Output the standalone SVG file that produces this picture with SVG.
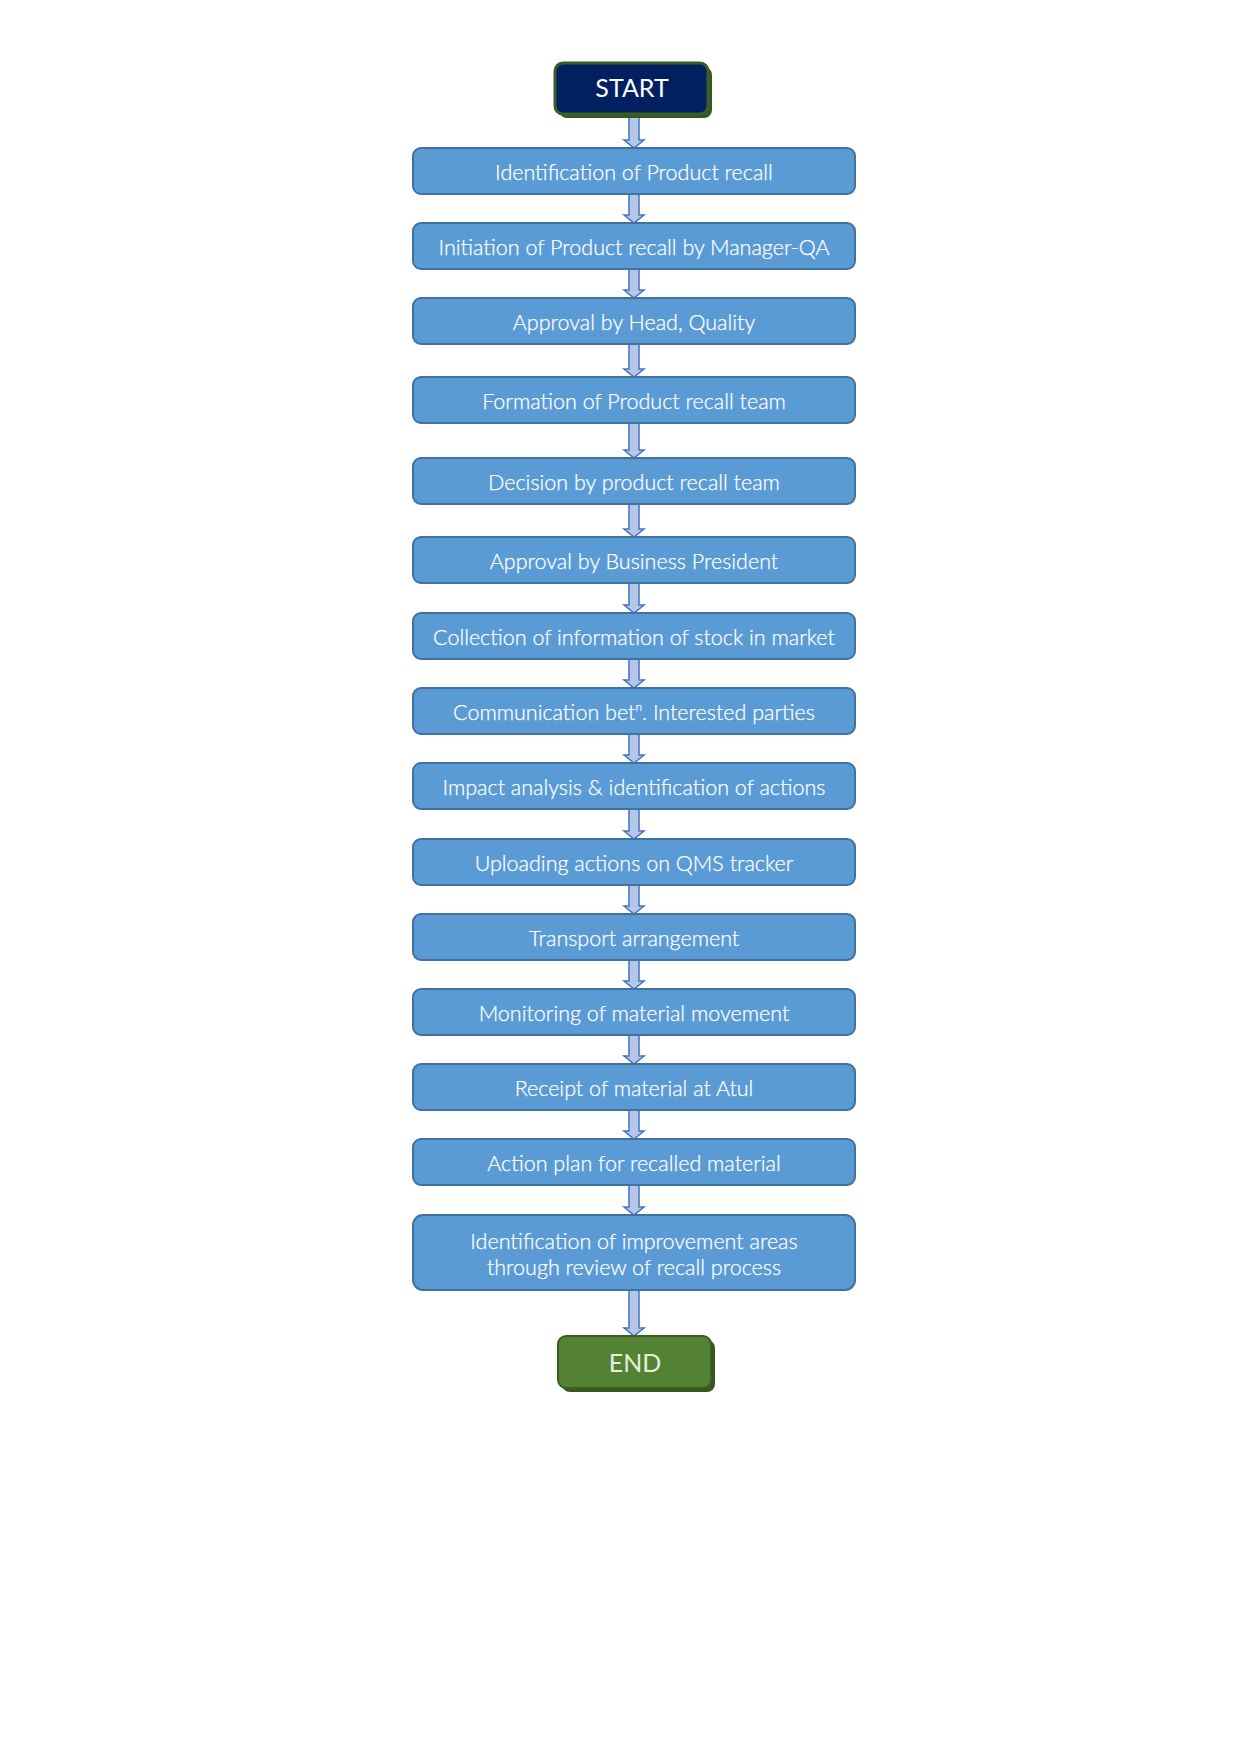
<svg xmlns="http://www.w3.org/2000/svg" width="1241" height="1755" viewBox="0 0 1241 1755">
<style>
.bg{fill:#ffffff}
.box{fill:#5b9bd5;stroke:#41719c;stroke-width:2}
.t{font-family:Lato,"Open Sans",sans-serif;font-size:21.5px;font-weight:300;fill:#ffffff;stroke:#ffffff;stroke-width:0.25;text-anchor:middle}
.tt{font-family:Lato,"Open Sans",sans-serif;font-size:25px;text-anchor:middle}
.arr{fill:#b4c7e7;stroke:#4472c4;stroke-width:1.5;stroke-linejoin:miter}
</style>
<rect class="bg" x="0" y="0" width="1241" height="1755"/>
<g id="connectors">
<polygon class="arr" points="629,117 639,117 639,140 644,140 634,148 624,140 629,140"/>
<polygon class="arr" points="629,194 639,194 639,215 644,215 634,223 624,215 629,215"/>
<polygon class="arr" points="629,269 639,269 639,290 644,290 634,298 624,290 629,290"/>
<polygon class="arr" points="629,344 639,344 639,369 644,369 634,377 624,369 629,369"/>
<polygon class="arr" points="629,423 639,423 639,450 644,450 634,458 624,450 629,450"/>
<polygon class="arr" points="629,504 639,504 639,529 644,529 634,537 624,529 629,529"/>
<polygon class="arr" points="629,583 639,583 639,605 644,605 634,613 624,605 629,605"/>
<polygon class="arr" points="629,659 639,659 639,680 644,680 634,688 624,680 629,680"/>
<polygon class="arr" points="629,734 639,734 639,755 644,755 634,763 624,755 629,755"/>
<polygon class="arr" points="629,809 639,809 639,831 644,831 634,839 624,831 629,831"/>
<polygon class="arr" points="629,885 639,885 639,906 644,906 634,914 624,906 629,906"/>
<polygon class="arr" points="629,960 639,960 639,981 644,981 634,989 624,981 629,981"/>
<polygon class="arr" points="629,1035 639,1035 639,1056 644,1056 634,1064 624,1056 629,1056"/>
<polygon class="arr" points="629,1110 639,1110 639,1131 644,1131 634,1139 624,1131 629,1131"/>
<polygon class="arr" points="629,1185 639,1185 639,1207 644,1207 634,1215 624,1207 629,1207"/>
<polygon class="arr" points="629,1290 639,1290 639,1328 644,1328 634,1336 624,1328 629,1328"/>
</g>
<g id="start">
<rect x="559" y="67" width="153" height="51" rx="8" fill="#375623"/>
<rect x="555" y="63" width="153" height="51" rx="8" fill="#002060" stroke="#3b5e27" stroke-width="3"/>
<text class="tt" x="632" y="97" fill="#ffffff">START</text>
</g>
<g id="n1"><rect class="box" x="413" y="148" width="442" height="46" rx="8"/><text class="t" x="634" y="180">Identification of Product recall</text></g>
<g id="n2"><rect class="box" x="413" y="223" width="442" height="46" rx="8"/><text class="t" x="634" y="255">Initiation of Product recall by Manager-QA</text></g>
<g id="n3"><rect class="box" x="413" y="298" width="442" height="46" rx="8"/><text class="t" x="634" y="330">Approval by Head, Quality</text></g>
<g id="n4"><rect class="box" x="413" y="377" width="442" height="46" rx="8"/><text class="t" x="634" y="409">Formation of Product recall team</text></g>
<g id="n5"><rect class="box" x="413" y="458" width="442" height="46" rx="8"/><text class="t" x="634" y="490">Decision by product recall team</text></g>
<g id="n6"><rect class="box" x="413" y="537" width="442" height="46" rx="8"/><text class="t" x="634" y="569">Approval by Business President</text></g>
<g id="n7"><rect class="box" x="413" y="613" width="442" height="46" rx="8"/><text class="t" x="634" y="645">Collection of information of stock in market</text></g>
<g id="n8"><rect class="box" x="413" y="688" width="442" height="46" rx="8"/><text class="t" x="634" y="720">Communication bet<tspan font-size="12" dy="-9">n</tspan><tspan dy="9">. Interested parties</tspan></text></g>
<g id="n9"><rect class="box" x="413" y="763" width="442" height="46" rx="8"/><text class="t" x="634" y="795">Impact analysis &amp; identification of actions</text></g>
<g id="n10"><rect class="box" x="413" y="839" width="442" height="46" rx="8"/><text class="t" x="634" y="871">Uploading actions on QMS tracker</text></g>
<g id="n11"><rect class="box" x="413" y="914" width="442" height="46" rx="8"/><text class="t" x="634" y="946">Transport arrangement</text></g>
<g id="n12"><rect class="box" x="413" y="989" width="442" height="46" rx="8"/><text class="t" x="634" y="1021">Monitoring of material movement</text></g>
<g id="n13"><rect class="box" x="413" y="1064" width="442" height="46" rx="8"/><text class="t" x="634" y="1096">Receipt of material at Atul</text></g>
<g id="n14"><rect class="box" x="413" y="1139" width="442" height="46" rx="8"/><text class="t" x="634" y="1171">Action plan for recalled material</text></g>
<g id="n15"><rect class="box" x="413" y="1215" width="442" height="75" rx="10"/><text class="t" x="634" y="1249">Identification of improvement areas</text><text class="t" x="634" y="1275">through review of recall process</text></g>
<g id="end">
<rect x="562" y="1340" width="153" height="52" rx="8" fill="#375623"/>
<rect x="558" y="1336" width="153" height="52" rx="8" fill="#548235" stroke="#3b5e27" stroke-width="2"/>
<text class="tt" x="635" y="1372" fill="#e2f0d9">END</text>
</g>
</svg>
